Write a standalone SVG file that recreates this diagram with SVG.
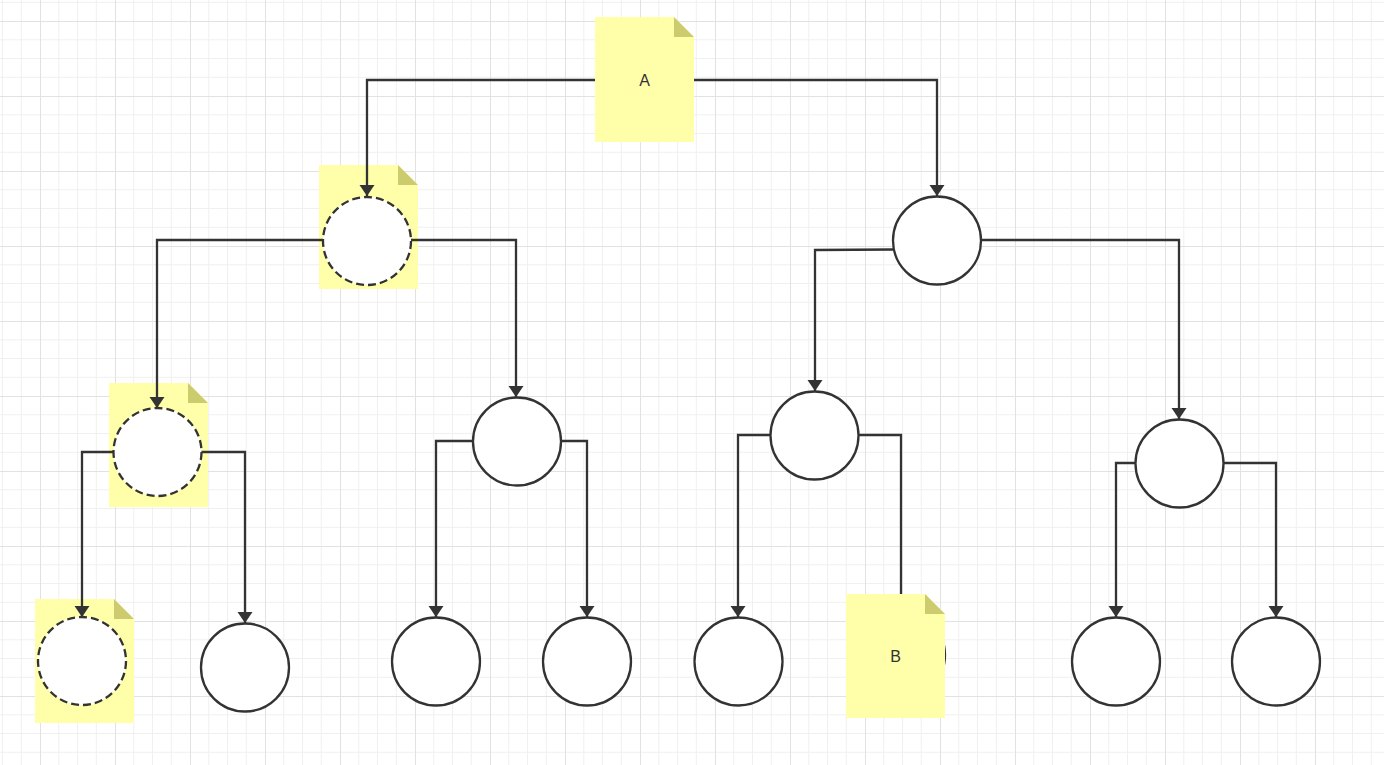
<svg xmlns="http://www.w3.org/2000/svg" width="1384" height="765" viewBox="0 0 1384 765">
<defs>
<pattern id="grid" patternUnits="userSpaceOnUse" x="40" y="21" width="75" height="75">
<path d="M18.75 0V75M37.5 0V75M56.25 0V75M0 18.75H75M0 37.5H75M0 56.25H75" stroke="#f0f0f0" stroke-width="1" fill="none"/>
<path d="M0.5 0V75M0 0.5H75" stroke="#e2e2e2" stroke-width="1" fill="none"/>
</pattern>
<marker id="arr" viewBox="0 0 11 16" refX="11" refY="8" markerWidth="11" markerHeight="16" markerUnits="userSpaceOnUse" orient="auto">
<path d="M0 0.5L11 8L0 15.5Z" fill="#333"/>
</marker>
</defs>
<style>
.note{fill:#ffffaa}
.fold{fill:#cccc6e}
.c{fill:#fff;stroke:#333;stroke-width:2.3}
.d{fill:#fff;stroke:#333;stroke-width:2.3;stroke-dasharray:8 4}
.e{fill:none;stroke:#333;stroke-width:2.3;marker-end:url(#arr)}
.t{font-family:"Liberation Sans",Arial,sans-serif;font-size:16px;fill:#333;text-anchor:middle}
</style>
<rect width="1384" height="765" fill="#fff"/>
<rect width="1384" height="765" fill="url(#grid)"/>

<g id="noteA">
<path class="note" d="M595 17H674L694 37V142H595Z"/>
<path class="fold" d="M674 17L694 37H674Z"/>
<text class="t" x="644.5" y="86">A</text>
</g>
<g id="note1">
<path class="note" d="M319 165H398L418 185V289H319Z"/>
<path class="fold" d="M398 165L418 185H398Z"/>
</g>
<g id="note2">
<path class="note" d="M109 383H188L208 403V507H109Z"/>
<path class="fold" d="M188 383L208 403H188Z"/>
</g>
<g id="note3">
<path class="note" d="M35 599H114L134 619V723H35Z"/>
<path class="fold" d="M114 599L134 619H114Z"/>
</g>

<g id="connectors">
<path class="e" d="M595 80H367V196"/>
<path class="e" d="M694 80H937V196"/>
<path class="e" d="M323 240H157V408"/>
<path class="e" d="M411 240H516V397"/>
<path class="e" d="M893 249.5L815 250V391"/>
<path class="e" d="M981 240H1179V419"/>
<path class="e" d="M114 452H82V617"/>
<path class="e" d="M201 452H245V623"/>
<path class="e" d="M473 441H436V617"/>
<path class="e" d="M561 441H587V617"/>
<path class="e" d="M771 435H738V617"/>
<path class="e" d="M858 435H901V617"/>
<path class="e" d="M1136 463H1116V617"/>
<path class="e" d="M1223 463H1276V617"/>
</g>

<g id="n1"><circle class="d" cx="367" cy="241" r="44"/></g>
<g id="n2"><circle class="c" cx="937" cy="240.5" r="44"/></g>
<g id="n3"><circle class="d" cx="157.5" cy="452" r="44"/></g>
<g id="n4"><circle class="c" cx="517" cy="441.5" r="44"/></g>
<g id="n5"><circle class="c" cx="814.5" cy="435.5" r="44"/></g>
<g id="n6"><circle class="c" cx="1179.5" cy="463.5" r="44"/></g>
<g id="n7"><circle class="d" cx="82" cy="661" r="44"/></g>
<g id="n8"><circle class="c" cx="245" cy="667.5" r="44"/></g>
<g id="n9"><circle class="c" cx="436" cy="661.5" r="44"/></g>
<g id="n10"><circle class="c" cx="587" cy="661.5" r="44"/></g>
<g id="n11"><circle class="c" cx="738.5" cy="661.5" r="44"/></g>
<g id="n12"><circle class="c" cx="901" cy="655" r="44"/></g>
<g id="n13"><circle class="c" cx="1116" cy="661.5" r="44"/></g>
<g id="n14"><circle class="c" cx="1276" cy="661.5" r="44"/></g>

<g id="noteB">
<path class="note" d="M846 594H925L945 614V718H846Z"/>
<path class="fold" d="M925 594L945 614H925Z"/>
<text class="t" x="895.5" y="662">B</text>
</g>
</svg>
